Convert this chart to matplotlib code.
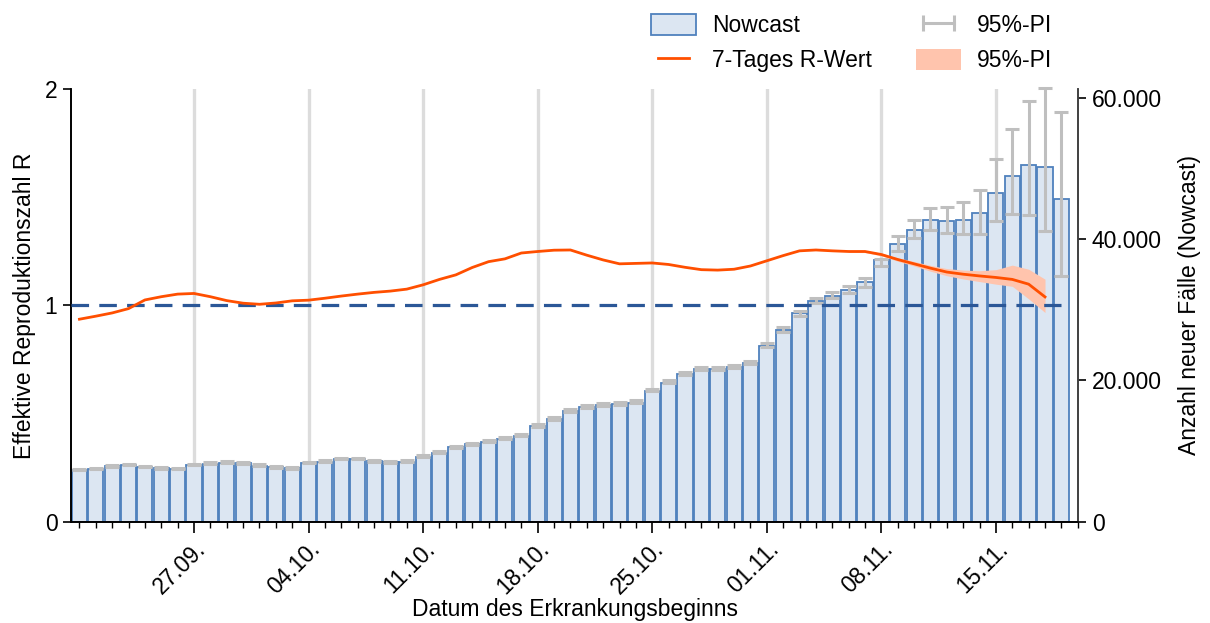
import matplotlib
matplotlib.use("Agg")
import matplotlib.pyplot as plt
import matplotlib.dates as mdates
from matplotlib.patches import Patch
from matplotlib.lines import Line2D
from matplotlib.ticker import FuncFormatter, FixedLocator
import pandas as pd
import numpy as np

plt.rcParams['font.family'] = ['Liberation Sans', 'DejaVu Sans']

start_date = "2020-09-20"
n_days = 61
dates = pd.date_range(start_date, periods=n_days, freq="D")
week_ticks = pd.date_range("2020-09-27", "2020-11-15", freq="7D")

nowcast = [7310, 7450, 7830, 7980, 7730, 7550, 7450, 7980, 8200, 8340,
           8260, 7920, 7690, 7550, 8300, 8480, 8870, 8870, 8540, 8400,
           8480, 9190, 9760, 10520, 10940, 11270, 11740, 12120, 13490, 14480,
           15650, 16180, 16500, 16640, 16830, 18520, 19650, 20840, 21550, 21550,
           21870, 22440, 24840, 27150, 29470, 31280, 31990, 32720, 33850, 37000,
           39310, 41290, 42700, 42480, 42660, 43610, 46520, 48920, 50400, 50110, 45670]

pi_lo = [7280, 7420, 7800, 7950, 7700, 7520, 7420, 7950, 8170, 8310,
         8230, 7890, 7660, 7520, 8270, 8450, 8840, 8840, 8510, 8370,
         8450, 9150, 9720, 10480, 10900, 11230, 11700, 12070, 13440, 14420,
         15580, 16110, 16420, 16560, 16740, 18430, 19570, 20700, 21400, 21400,
         21730, 22260, 24660, 26820, 29090, 30970, 31670, 32380, 33230, 36200,
         38320, 40160, 41290, 40820, 40640, 40720, 42560, 43550, 43410, 41150, 34780]

pi_hi = [7480, 7620, 8000, 8150, 7900, 7720, 7620, 8150, 8380, 8520,
         8440, 8100, 7870, 7730, 8480, 8670, 9060, 9060, 8730, 8590,
         8680, 9400, 9980, 10750, 11180, 11520, 11990, 12380, 13770, 14780,
         15970, 16510, 16840, 16990, 17190, 18800, 19990, 21120, 21870, 21870,
         22200, 22770, 25230, 27490, 29840, 31670, 32440, 33370, 34500, 37150,
         40440, 42660, 44330, 44540, 45160, 46900, 51240, 55490, 59530, 61330, 57970]

r_value = [0.936, 0.950, 0.965, 0.985, 1.025, 1.040, 1.052, 1.055, 1.040, 1.022,
           1.010, 1.005, 1.011, 1.021, 1.024, 1.033, 1.043, 1.052, 1.060, 1.066,
           1.075, 1.095, 1.120, 1.141, 1.175, 1.202, 1.215, 1.242, 1.249, 1.255,
           1.256, 1.232, 1.210, 1.192, 1.194, 1.196, 1.189, 1.176, 1.165, 1.163,
           1.167, 1.182, 1.206, 1.230, 1.252, 1.256, 1.252, 1.249, 1.249, 1.235,
           1.212, 1.192, 1.172, 1.154, 1.144, 1.136, 1.129, 1.120, 1.098, 1.039]

band_start = 47
r_lo = [1.245, 1.244, 1.229, 1.204, 1.182, 1.158, 1.137, 1.122, 1.110, 1.098, 1.088, 1.030, 0.967]
r_hi = [1.253, 1.254, 1.241, 1.220, 1.203, 1.185, 1.170, 1.163, 1.160, 1.165, 1.186, 1.167, 1.121]

bar_face = '#dce6f2'
bar_edge = '#4f81bd'
err_col = '#bfbfbf'
r_col = '#ff4f00'
band_col = '#ffc4ad'
dash_col = '#2b5797'

FS = 16.5

fig = plt.figure(figsize=(12.1, 6.23), dpi=100)
ax = fig.add_axes([0.0589, 0.1626, 0.8318, 0.6945])
ax2 = ax.twinx()

# Bars on primary axes (right y axis)
ax.bar(dates, nowcast, width=0.92, color=bar_face, edgecolor=bar_edge, linewidth=1.3, zorder=2)
nc = np.array(nowcast)
yerr = np.vstack([nc - np.array(pi_lo), np.array(pi_hi) - nc])
ax.errorbar(dates, nowcast, yerr=yerr, fmt='none', ecolor=err_col, elinewidth=2.2,
            capsize=5, capthick=2.2, zorder=3, clip_on=False)
ax.set_ylim(0, 61200)
ax.set_yticks([0, 20000, 40000, 60000])
ax.yaxis.set_major_formatter(FuncFormatter(lambda v, p: f"{int(v):,}".replace(",", ".")))
ax.yaxis.tick_right()
ax.yaxis.set_label_position('right')
ax.set_ylabel('Anzahl neuer Fälle (Nowcast)', fontsize=FS, labelpad=12)

# Weekly ticks and grid lines
ax.xaxis.set_major_locator(FixedLocator(mdates.date2num(week_ticks)))
ax.xaxis.set_minor_locator(mdates.DayLocator())
ax.xaxis.set_major_formatter(mdates.DateFormatter('%d.%m.'))
ax.grid(axis='x', which='major', color='#dcdcdc', linewidth=2.4, zorder=0)
ax.set_axisbelow(True)
ax.set_xlim(dates[0] - pd.Timedelta(hours=12), dates[0] + pd.Timedelta(days=61))

# R value on twin axes (left y axis)
r_dates = dates[:len(r_value)]
band_dates = dates[band_start:band_start + len(r_lo)]
ax2.fill_between(band_dates, r_lo, r_hi, color=band_col, linewidth=0, zorder=3)
ax2.plot([dates[0] - pd.Timedelta(hours=12), dates[-1]], [1, 1], color=dash_col,
         linewidth=2.3, dashes=(5.5, 3.2), zorder=4)
ax2.plot(r_dates, r_value, color=r_col, linewidth=2.0, zorder=5)
ax2.set_ylim(0, 2)
ax2.set_yticks([0, 1, 2])
ax2.yaxis.tick_left()
ax2.yaxis.set_label_position('left')
ax2.set_ylabel('Effektive Reproduktionszahl R', fontsize=FS, labelpad=6)

for a in (ax, ax2):
    a.spines['top'].set_visible(False)
    for s in ('left', 'right', 'bottom'):
        a.spines[s].set_linewidth(1.2)
ax.spines['right'].set_color('#404040')
ax2.spines['right'].set_color('#404040')

ax.tick_params(axis='y', which='major', length=6, width=1.2, labelsize=FS, pad=4)
ax2.tick_params(axis='y', which='major', length=6, width=1.2, labelsize=FS, pad=4)
ax.tick_params(axis='x', which='major', length=8, width=1.2, labelsize=FS, pad=3)
ax.tick_params(axis='x', which='minor', length=4, width=1.0)
for lab in ax.get_xticklabels():
    lab.set_rotation(45)
    lab.set_ha('right')
    lab.set_rotation_mode('anchor')
ax.set_xlabel('Datum des Erkrankungsbeginns', fontsize=FS, labelpad=0)

handles = [
    Patch(facecolor=bar_face, edgecolor=bar_edge, linewidth=1.3),
    Line2D([0], [0], color=r_col, linewidth=2.0),
    Line2D([0], [0], color=err_col, linewidth=2.2, marker='|', markersize=12, markeredgewidth=2.2),
    Patch(facecolor=band_col, edgecolor='none'),
]
labels = ['Nowcast', '7-Tages R-Wert', '95%-PI', '95%-PI']
fig.legend(handles, labels, loc='upper left', bbox_to_anchor=(651 / 1210, 1 - 14 / 623),
           ncol=2, frameon=False, fontsize=FS, numpoints=2, handlelength=1.95,
           handleheight=1.05, handletextpad=0.7, columnspacing=1.95, labelspacing=0.5,
           borderpad=0, borderaxespad=0)

fig.savefig('out.png', dpi=100)
